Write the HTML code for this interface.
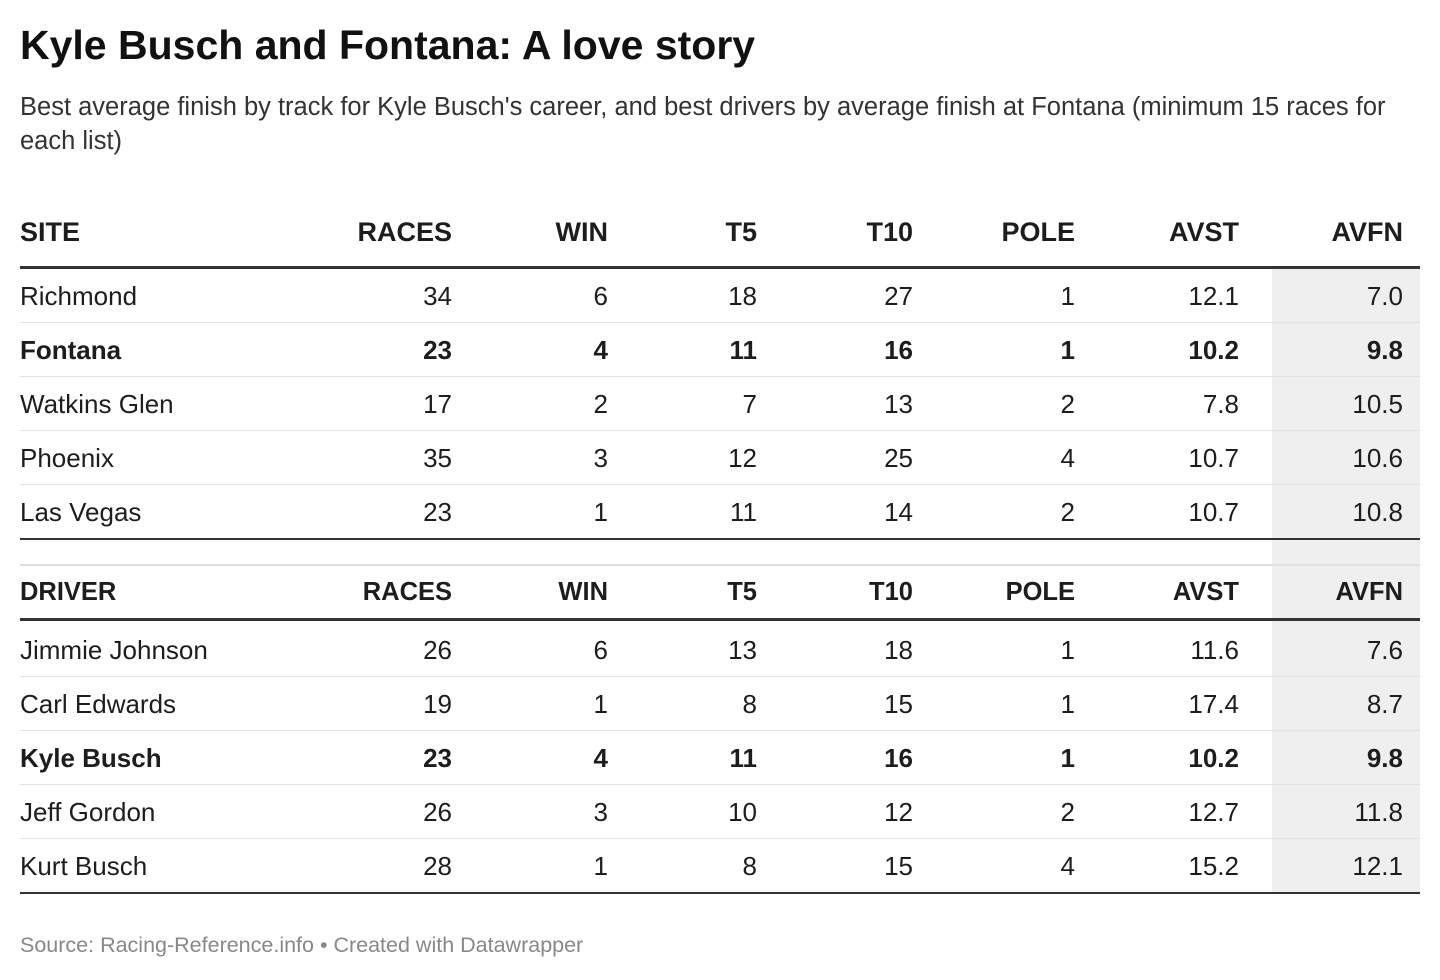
<!DOCTYPE html>
<html><head><meta charset="utf-8"><style>
body{margin:0;width:1440px;height:980px;background:#fff;font-family:"Liberation Sans",Arial,sans-serif;color:#1d1d1d;position:relative;overflow:hidden}
.a{position:absolute}
h1{position:absolute;left:20px;top:22px;margin:0;font-size:41px;font-weight:bold;color:#111}
.sub{left:20px;top:90px;width:1370px;font-size:25.5px;line-height:34px;color:#333}
.shade{left:1272px;width:148px;background:#efefef}
.line{left:20px;width:1400px}
.c{position:absolute;font-size:26px;line-height:30px;white-space:nowrap}
.r{text-align:right}
.b{font-weight:bold}
.h{font-weight:bold;font-size:27px}
.h2{font-weight:bold;font-size:25.5px}
.src{left:20px;top:933px;font-size:21.5px;color:#888}
</style></head><body>
<h1>Kyle Busch and Fontana: A love story</h1>
<div class="a sub">Best average finish by track for Kyle Busch's career, and best drivers by average finish at Fontana (minimum 15 races for each list)</div>
<div class="a shade" style="top:269px;height:623px"></div>
<div id="t"></div>
<div class="a src">Source: Racing-Reference.info • Created with Datawrapper</div>
<script>
const headers1=["SITE","RACES","WIN","T5","T10","POLE","AVST","AVFN"];
const headers2=["DRIVER","RACES","WIN","T5","T10","POLE","AVST","AVFN"];
const rows1=[["Richmond","34","6","18","27","1","12.1","7.0"],["Fontana","23","4","11","16","1","10.2","9.8"],["Watkins Glen","17","2","7","13","2","7.8","10.5"],["Phoenix","35","3","12","25","4","10.7","10.6"],["Las Vegas","23","1","11","14","2","10.7","10.8"]];
const rows2=[["Jimmie Johnson","26","6","13","18","1","11.6","7.6"],["Carl Edwards","19","1","8","15","1","17.4","8.7"],["Kyle Busch","23","4","11","16","1","10.2","9.8"],["Jeff Gordon","26","3","10","12","2","12.7","11.8"],["Kurt Busch","28","1","8","15","4","15.2","12.1"]];
const bold1=[1],bold2=[2];
const rights=[0,452,608,757,913,1075,1239,1403];
const t=document.getElementById('t');
function line(top,h,col,name){const d=document.createElement('div');d.className='a line';d.style.top=top+'px';d.style.height=h+'px';d.style.background=col;


t.appendChild(d);}
function cell(txt,i,cy,cls,name){const d=document.createElement('div');d.className='c '+cls;d.textContent=txt;d.style.top=(cy-15)+'px';
if(i==0){d.style.left='20px';}else{d.style.right=(1440-rights[i])+'px';d.classList.add('r');}


t.appendChild(d);}
function block(headers,rows,bold,hy,hline,y0,prefix,hcls){
headers.forEach((h,i)=>cell(h,i,hy,hcls,prefix+'-header-'+h.toLowerCase()));
line(hline,3,'#333',prefix+'-header-rule');
rows.forEach((r,k)=>{const cy=y0+k*54;r.forEach((v,i)=>cell(v,i,cy,bold.includes(k)?'b':'',prefix+'-cell'));
if(k<rows.length-1)line(cy+26,1,'#e2e2e2',prefix+'-row-divider');});
line(y0+4*54+26,2,'#333',prefix+'-bottom-rule');}
block(headers1,rows1,bold1,232,266,296,'site','h');
line(564,2,'#e0e0e0','spacer-divider');
block(headers2,rows2,bold2,592,618,650,'driver','h2');
</script>
</body></html>
